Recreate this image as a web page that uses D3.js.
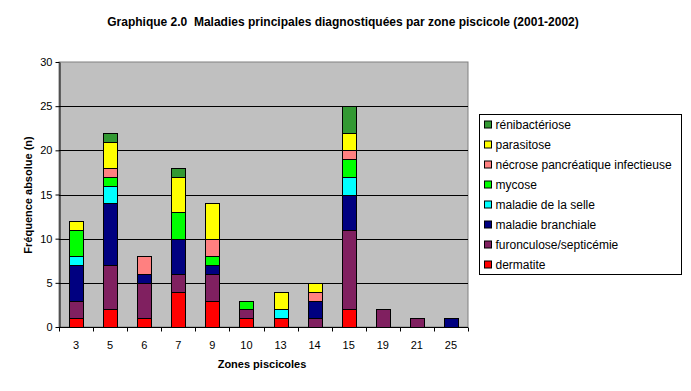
<!DOCTYPE html>
<meta charset="utf-8">
<head>
  <script src="https://d3js.org/d3.v7.min.js"></script>
  <style>
    body { margin: 0; background: #fff; }
    svg { display: block; font-family: "Liberation Sans", Arial, sans-serif; }
  </style>
</head>
<body>
<div id="my_dataviz"></div>
<script>

// zones and series (bottom to top in the stack)
var zones = ["3", "5", "6", "7", "9", "10", "13", "14", "15", "19", "21", "25"];
var series = ["dermatite", "furonculose/septicémie", "maladie branchiale", "maladie de la selle",
              "mycose", "nécrose pancréatique infectieuse", "parasitose", "rénibactériose"];
var colors = ["#FF0000", "#802060", "#000080", "#00FFFF", "#00FF00", "#FF8080", "#FFFF00", "#339933"];

var dermatite   = [1, 2, 1, 4, 3, 1, 1, 0, 2, 0, 0, 0];
var furonculose = [2, 5, 4, 2, 3, 1, 0, 1, 9, 2, 1, 0];
var branchiale  = [4, 7, 1, 4, 1, 0, 0, 2, 4, 0, 0, 1];
var selle       = [1, 2, 0, 0, 0, 0, 1, 0, 2, 0, 0, 0];
var mycose      = [3, 1, 0, 3, 1, 1, 0, 0, 2, 0, 0, 0];
var necrose     = [0, 1, 2, 0, 2, 0, 0, 1, 1, 0, 0, 0];
var parasitose  = [1, 3, 0, 4, 4, 0, 2, 1, 2, 0, 0, 0];
var reni        = [0, 1, 0, 1, 0, 0, 0, 0, 3, 0, 0, 0];

var yTicks = [0, 5, 10, 15, 20, 25, 30];

var values = [dermatite, furonculose, branchiale, selle, mycose, necrose, parasitose, reni];
var data = zones.map(function(z, i) {
  var row = {zone: z};
  series.forEach(function(s, k) { row[s] = values[k][i]; });
  return row;
});

var margin = {top: 62, left: 59},
    width = 409, height = 265;

var svg = d3.select("#my_dataviz")
  .append("svg")
    .attr("width", 691)
    .attr("height", 391);

// title
svg.append("text")
  .attr("x", 343).attr("y", 26)
  .attr("text-anchor", "middle")
  .style("font-size", "12px").style("font-weight", "bold")
  .style("white-space", "pre")
  .text("Graphique 2.0  Maladies principales diagnostiquées par zone piscicole (2001-2002)");

var g = svg.append("g")
  .attr("transform", "translate(" + margin.left + "," + margin.top + ")");

var x = d3.scaleBand().domain(zones).range([0, width]).paddingInner(0.59).paddingOuter(0.295);
var xb = d3.scaleBand().domain(zones).range([0, width]);
var y = d3.scaleLinear().domain([0, 30]).range([height, 0]);

// plot area
g.append("rect")
  .attr("width", width).attr("height", height)
  .attr("fill", "#C0C0C0").attr("stroke", "#808080").attr("stroke-width", 1);

// gridlines
g.selectAll(".grid")
  .data(yTicks.filter(function(d) { return d > 0 && d < 30; }))
  .enter().append("line")
    .attr("x1", 0).attr("x2", width)
    .attr("y1", function(d) { return Math.round(y(d)) + 0.5; })
    .attr("y2", function(d) { return Math.round(y(d)) + 0.5; })
    .attr("stroke", "#000").attr("stroke-width", 1);

// stacked bars
var stack = d3.stack().keys(series)(data);
g.selectAll(".layer")
  .data(stack)
  .enter().append("g")
    .attr("fill", function(d, i) { return colors[i]; })
  .selectAll("rect")
  .data(function(d) { return d.filter(function(e) { return e[1] > e[0]; }); })
  .enter().append("rect")
    .attr("x", function(d) { return Math.round(x(d.data.zone)) + 0.5; })
    .attr("y", function(d) { return Math.round(y(d[1])) + 0.5; })
    .attr("width", Math.round(x.bandwidth()))
    .attr("height", function(d) { return Math.round(y(d[0])) - Math.round(y(d[1])); })
    .attr("stroke", "#000").attr("stroke-width", 1);

// y axis
var yAxis = g.append("g")
  .attr("transform", "translate(0.5,0)")
  .call(d3.axisLeft(y).tickValues(yTicks).tickSize(4).tickSizeOuter(0));
yAxis.select(".domain").attr("stroke", "#000");
yAxis.selectAll("text").style("font-size", "11px").attr("x", -7).attr("fill", "#000");

// x axis with ticks at band boundaries
var xAxisG = g.append("g").attr("transform", "translate(0," + (height + 0.5) + ")");
xAxisG.append("line").attr("x1", 0).attr("x2", width).attr("stroke", "#000");
xAxisG.selectAll(".tk")
  .data(zones.concat(["end"]))
  .enter().append("line")
    .attr("x1", function(d, i) { return Math.round(i * xb.bandwidth()) + 0.5; })
    .attr("x2", function(d, i) { return Math.round(i * xb.bandwidth()) + 0.5; })
    .attr("y1", 0).attr("y2", 4).attr("stroke", "#000");
xAxisG.selectAll(".lbl")
  .data(zones)
  .enter().append("text")
    .attr("x", function(d) { return xb(d) + xb.bandwidth() / 2; })
    .attr("y", 21)
    .attr("text-anchor", "middle")
    .style("font-size", "11px")
    .text(function(d) { return d; });

// axis titles
svg.append("text")
  .attr("x", 262).attr("y", 368)
  .attr("text-anchor", "middle")
  .style("font-size", "11px").style("font-weight", "bold")
  .text("Zones piscicoles");

svg.append("text")
  .attr("transform", "translate(32,195)rotate(-90)")
  .attr("text-anchor", "middle")
  .style("font-size", "11px").style("font-weight", "bold")
  .text("Fréquence absolue (n)");

// legend (top item is the last series)
var legend = svg.append("g").attr("transform", "translate(479.5,114.5)");
legend.append("rect")
  .attr("width", 202).attr("height", 160)
  .attr("fill", "#fff").attr("stroke", "#000");
var items = series.slice().reverse();
var itemColors = colors.slice().reverse();
items.forEach(function(s, i) {
  var row = legend.append("g").attr("transform", "translate(5," + (10 + i * 20) + ")");
  row.append("rect")
    .attr("x", 0).attr("y", -3.5).attr("width", 7).attr("height", 7)
    .attr("fill", itemColors[i]).attr("stroke", "#000");
  row.append("text")
    .attr("x", 11).attr("y", 4.5)
    .style("font-size", "12px")
    .text(s);
});

</script>
</body>
